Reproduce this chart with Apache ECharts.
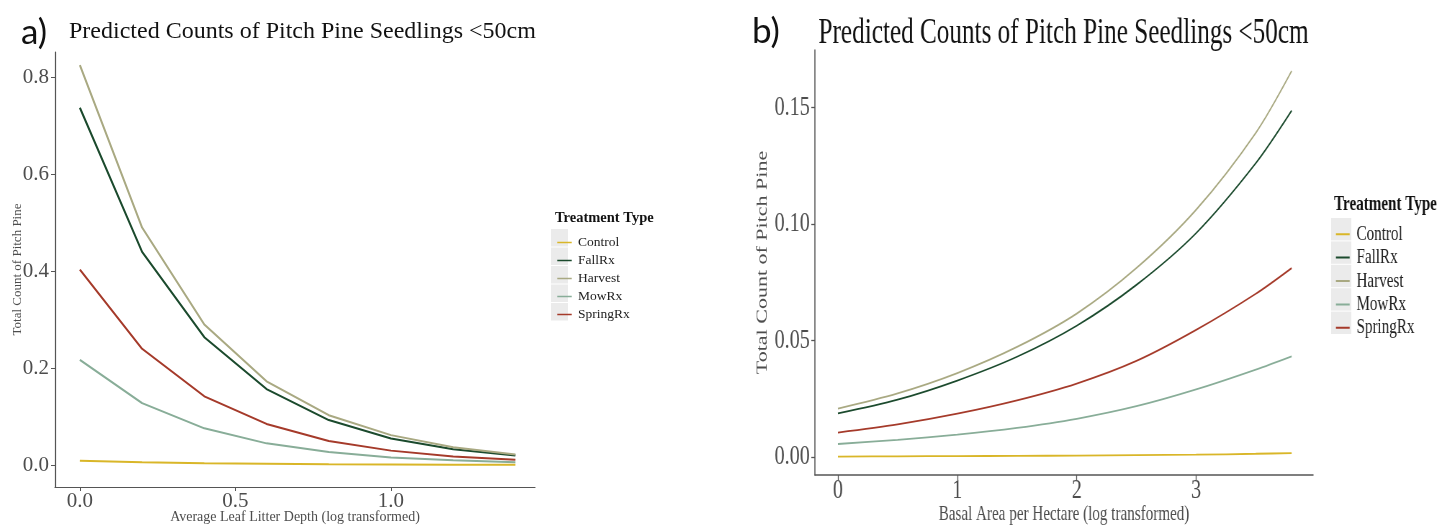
<!DOCTYPE html>
<html>
<head>
<meta charset="utf-8">
<script src="https://cdn.jsdelivr.net/npm/echarts@6/dist/echarts.min.js"></script>
<style>
  html, body { margin: 0; padding: 0; background: #fff; }
  #wrap { position: relative; width: 1455px; height: 525px; overflow: hidden; }
  #panelA { position: absolute; left: 0; top: 0; width: 1455px; height: 525px; }
  /* panel b is horizontally squeezed in the original figure */
  #panelB { position: absolute; left: 740px; top: 0; width: 993px; height: 525px;
            transform: scaleX(0.72); transform-origin: 0 0; }
</style>
</head>
<body>
<div id="wrap">
  <div id="panelA"></div>
  <div id="panelB"></div>
</div>
<script>
// treatment groups and colours
const treatments = ['Control', 'FallRx', 'Harvest', 'MowRx', 'SpringRx'];
const colors = ['#D9B628', '#1B4A2D', '#A9A982', '#88AD98', '#A53A2A'];

// panel a: leaf litter depth (log)
const xLitter = [0, 0.2, 0.4, 0.6, 0.8, 1.0, 1.2, 1.4];
const litterControl  = [0.009, 0.006, 0.004, 0.003, 0.002, 0.0015, 0.001, 0.0008];
const litterFallRx   = [0.737, 0.440, 0.264, 0.157, 0.093, 0.055, 0.033, 0.020];
const litterHarvest  = [0.825, 0.490, 0.290, 0.173, 0.103, 0.062, 0.037, 0.022];
const litterMowRx    = [0.217, 0.128, 0.076, 0.045, 0.027, 0.016, 0.010, 0.006];
const litterSpringRx = [0.403, 0.240, 0.142, 0.085, 0.050, 0.030, 0.018, 0.011];

// panel b: basal area per hectare (log)
const xBasal = [0, 0.5, 1, 1.5, 2, 2.5, 3, 3.5, 3.8];
const basalControl  = [0.0002, 0.0003, 0.0004, 0.0005, 0.0006, 0.0008, 0.0010, 0.0014, 0.0017];
const basalFallRx   = [0.0187, 0.0246, 0.0328, 0.0430, 0.0563, 0.0738, 0.0960, 0.1260, 0.1485];
const basalHarvest  = [0.0208, 0.0273, 0.0360, 0.0472, 0.0615, 0.0810, 0.1060, 0.1390, 0.1655];
const basalMowRx    = [0.0056, 0.0074, 0.0096, 0.0125, 0.0164, 0.0218, 0.0290, 0.0375, 0.0432];
const basalSpringRx = [0.0105, 0.0140, 0.0186, 0.0243, 0.0315, 0.0412, 0.0545, 0.0700, 0.0810];

const ticksAY = [0, 0.2, 0.4, 0.6, 0.8];
const ticksAX = [0, 0.5, 1.0];
const ticksBY = [0, 0.05, 0.10, 0.15];
const ticksBX = [0, 1, 2, 3];

const serif = 'Liberation Serif';
const grey = '#4d4d4d';

function pairs(xs, ys) {
  return xs.map((x, i) => [x, ys[i]]);
}

function makeSeries(xs, groups, width, smooth) {
  return groups.map((ys, i) => ({
    name: treatments[i],
    type: 'line',
    data: pairs(xs, ys),
    smooth: smooth,
    showSymbol: false,
    symbol: 'none',
    color: colors[i],
    lineStyle: { width: width, color: colors[i] }
  }));
}

// little line inside an invisible square, so the legend key keeps its size
const keyIcon = 'path://M0,0L0.01,0L0.01,0.01Z M20,20L19.99,20L19.99,19.99Z M1.5,9.1L18.5,9.1L18.5,10.9L1.5,10.9Z';

function legendKeys(left, top, w, h, step) {
  return treatments.map((t, i) => ({
    type: 'rect',
    z: 0,
    shape: { x: left, y: top + i * step, width: w, height: h },
    style: { fill: '#ebebeb' }
  }));
}

// ---------- panel a ----------
const chartA = echarts.init(document.getElementById('panelA'));
chartA.setOption({
  animation: false,
  title: [
    { text: 'a)', left: 16, top: 10, textStyle: { fontFamily: 'Lato', fontSize: 35, fontWeight: 'normal', color: '#111' } },
    { text: 'b)', left: 747, top: 9, textStyle: { fontFamily: 'Lato', fontSize: 35, fontWeight: 'normal', color: '#111' } },
    { text: 'Predicted Counts of Pitch Pine Seedlings <50cm', left: 64, top: 15,
      textStyle: { fontFamily: serif, fontSize: 24, fontWeight: 'normal', color: '#111' } },
    { text: 'Treatment Type', left: 550, top: 206,
      textStyle: { fontFamily: serif, fontSize: 14.5, fontWeight: 'bold', color: '#111' } }
  ],
  legend: {
    orient: 'vertical', left: 551, top: 229, z: 10,
    itemWidth: 17, itemHeight: 17.5, itemGap: 1,
    icon: keyIcon,
    data: treatments,
    textStyle: { fontFamily: serif, fontSize: 13.5, color: '#222', lineHeight: 17 }
  },
  graphic: legendKeys(551, 229, 17, 17.5, 18.5),
  grid: { left: 55, top: 52, width: 480, height: 435, outerBoundsMode: 'none' },
  xAxis: {
    type: 'value', min: -0.08, max: 1.463,
    name: 'Average Leaf Litter Depth (log transformed)',
    nameLocation: 'middle', nameGap: 23, nameMoveOverlap: false,
    nameTextStyle: { fontFamily: serif, fontSize: 14, color: grey },
    axisLine: { onZero: false, lineStyle: { color: '#555', width: 1.2 } },
    axisTick: { customValues: ticksAX, length: 4, lineStyle: { color: '#555' } },
    axisLabel: { customValues: ticksAX, margin: 4, fontFamily: serif, fontSize: 21, color: grey,
                 formatter: v => v.toFixed(1) },
    splitLine: { show: false }
  },
  yAxis: {
    type: 'value', min: -0.045, max: 0.852,
    name: 'Total Count of Pitch Pine',
    nameLocation: 'middle', nameGap: 31, nameMoveOverlap: false,
    nameTextStyle: { fontFamily: serif, fontSize: 13, color: grey },
    axisLine: { show: true, onZero: false, lineStyle: { color: '#555', width: 1.2 } },
    axisTick: { show: true, customValues: ticksAY, length: 4, lineStyle: { color: '#555' } },
    axisLabel: { customValues: ticksAY, margin: 6, fontFamily: serif, fontSize: 21, color: grey,
                 formatter: v => v.toFixed(1) },
    splitLine: { show: false }
  },
  series: makeSeries(xLitter,
    [litterControl, litterFallRx, litterHarvest, litterMowRx, litterSpringRx], 2, false)
});

// ---------- panel b (drawn wide, squeezed by css) ----------
const chartB = echarts.init(document.getElementById('panelB'));
chartB.setOption({
  animation: false,
  title: [
    { text: 'Predicted Counts of Pitch Pine Seedlings <50cm', left: 104, top: 11,
      textStyle: { fontFamily: serif, fontSize: 35, fontWeight: 'normal', color: '#111' } },
    { text: 'Treatment Type', left: 820, top: 189,
      textStyle: { fontFamily: serif, fontSize: 21, fontWeight: 'bold', color: '#111' } }
  ],
  legend: {
    orient: 'vertical', left: 821, top: 218, z: 10,
    itemWidth: 28, itemHeight: 22.4, itemGap: 1,
    icon: keyIcon,
    data: treatments,
    textStyle: { fontFamily: serif, fontSize: 21, color: '#222', lineHeight: 22 }
  },
  graphic: legendKeys(821, 218, 28, 22.4, 23.4),
  grid: { left: 104, top: 50, width: 692, height: 425, outerBoundsMode: 'none' },
  xAxis: {
    type: 'value', min: -0.193, max: 3.98,
    name: 'Basal Area per Hectare (log transformed)',
    nameLocation: 'middle', nameGap: 29, nameMoveOverlap: false,
    nameTextStyle: { fontFamily: serif, fontSize: 21, color: grey },
    axisLine: { onZero: false, lineStyle: { color: '#555', width: 1.5 } },
    axisTick: { customValues: ticksBX, length: 5, lineStyle: { color: '#555', width: 1.3 } },
    axisLabel: { customValues: ticksBX, margin: 2, fontFamily: serif, fontSize: 28, color: grey },
    splitLine: { show: false }
  },
  yAxis: {
    type: 'value', min: -0.0077, max: 0.1745,
    name: 'Total Count of Pitch Pine',
    nameLocation: 'middle', nameGap: 62, nameMoveOverlap: false,
    nameTextStyle: { fontFamily: serif, fontSize: 22, color: grey },
    axisLine: { show: true, onZero: false, lineStyle: { color: '#555', width: 1.5 } },
    axisTick: { show: true, customValues: ticksBY, length: 5, lineStyle: { color: '#555', width: 1.3 } },
    axisLabel: { customValues: ticksBY, margin: 7, fontFamily: serif, fontSize: 28, color: grey,
                 formatter: v => v.toFixed(2) },
    splitLine: { show: false }
  },
  series: makeSeries(xBasal,
    [basalControl, basalFallRx, basalHarvest, basalMowRx, basalSpringRx], 1.8, 0.3)
});
</script>
</body>
</html>
